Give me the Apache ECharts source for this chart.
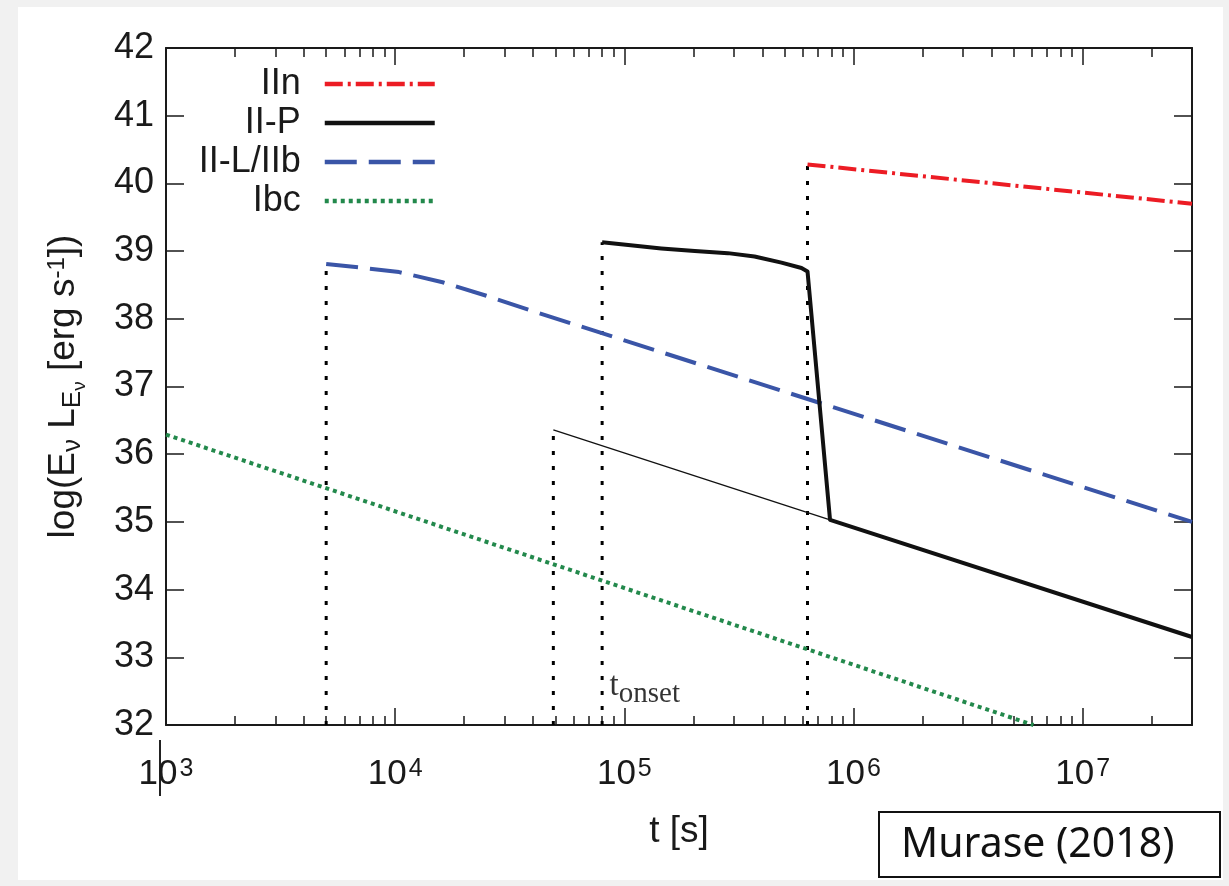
<!DOCTYPE html>
<html>
<head>
<meta charset="utf-8">
<title>Murase (2018)</title>
<script src="https://cdn.jsdelivr.net/npm/echarts@6.0.0/dist/echarts.min.js"></script>
<style>
  html, body { margin: 0; padding: 0; background: #f1f1f1; }
  #panel { position: absolute; left: 18px; top: 7px; width: 1205px; height: 873px; background: #fff; }
  #chart { position: absolute; left: 0; top: 0; width: 1229px; height: 886px; }
</style>
</head>
<body>
<div id="panel"></div>
<div id="chart"></div>
<script>
// t in seconds, values are log10(E L_E) in erg/s
const tMin = 1e3;
const tMax = 3e7;
const majorTicks = [1e3, 1e4, 1e5, 1e6, 1e7];
const minorTicks = [
    2e3, 3e3, 4e3, 5e3, 6e3, 7e3, 8e3, 9e3,
    2e4, 3e4, 4e4, 5e4, 6e4, 7e4, 8e4, 9e4,
    2e5, 3e5, 4e5, 5e5, 6e5, 7e5, 8e5, 9e5,
    2e6, 3e6, 4e6, 5e6, 6e6, 7e6, 8e6, 9e6,
    2e7, 3e7
];
const yMin = 32;
const yMax = 42;

const legendNames = ['IIn', 'II-P', 'II-L/IIb', 'Ibc'];
const dataIIn = [[6.3e5, 40.28], [3e7, 39.70]];
const dataIIP = [[8e4, 39.13], [1.04e5, 39.09], [1.45e5, 39.04], [2.03e5, 39.00], [2.83e5, 38.97], [3.7e5, 38.92], [4.85e5, 38.83], [5.93e5, 38.75], [6.3e5, 38.70], [7.9e5, 35.03], [3e7, 33.30]];
const dataIIPThin = [[4.9e4, 36.36], [7.9e5, 35.03]];
const dataIIL = [[5e3, 38.81], [6.9e3, 38.76], [1.04e4, 38.69], [1.61e4, 38.54], [2.5e4, 38.34], [3.85e4, 38.13], [3e7, 35.00]];
const dataIbc = [[1e3, 36.29], [6.1e6, 32.0]];
const onsetTimes = [5e3, 4.9e4, 8e4, 6.3e5];
const onsetTops = [38.81, 36.36, 39.13, 40.28];
const onsetLabelTime = 8e4;

const lg = t => Math.log10(t);
const toXY = pts => pts.map(p => [lg(p[0]), p[1]]);

const font = 'Liberation Sans, Arial, Helvetica, sans-serif';
const serif = 'Liberation Serif, Times New Roman, serif';
const ink = '#1a1a1a';

var myChart = echarts.init(document.getElementById('chart'), null, { renderer: 'canvas' });

function xAxis(position, ticks, len, main) {
    return {
        type: 'value',
        position: position,
        min: lg(tMin),
        max: lg(tMax),
        axisLine: { show: main, onZero: false, lineStyle: { color: ink, width: 2 } },
        axisTick: { show: true, inside: true, length: len, customValues: ticks.map(lg), lineStyle: { color: ink, width: 1.5 } },
        axisLabel: { show: false },
        splitLine: { show: false }
    };
}

const bottomMajor = xAxis('bottom', majorTicks, 17, true);
bottomMajor.axisLabel = {
    show: true,
    customValues: majorTicks.map(lg),
    margin: 32,
    formatter: v => '{b|10}{s|' + Math.round(v) + '}',
    rich: {
        b: { fontFamily: font, fontSize: 35, lineHeight: 35, color: ink, verticalAlign: 'bottom' },
        s: { fontFamily: font, fontSize: 25, lineHeight: 25, color: ink, verticalAlign: 'top', padding: [0, 0, 26, 2] }
    }
};
bottomMajor.name = 't [s]';
bottomMajor.nameLocation = 'middle';
bottomMajor.nameGap = 82;
bottomMajor.nameTextStyle = { fontFamily: font, fontSize: 37, color: ink };

function yAxis(position, main) {
    return {
        type: 'value',
        position: position,
        min: yMin,
        max: yMax,
        interval: 1,
        axisLine: { show: true, lineStyle: { color: ink, width: 2 } },
        axisTick: { show: true, inside: true, length: 18, lineStyle: { color: ink, width: 1.5 } },
        axisLabel: { show: main, margin: 12, fontFamily: font, fontSize: 36, color: ink },
        splitLine: { show: false }
    };
}

const leftAxis = yAxis('left', true);
leftAxis.name = '{b|log(E}{s1|ν}{b| L}{s1|E}{s2|ν}{b| [erg s}{p|-1}{b|])}';
leftAxis.nameLocation = 'middle';
leftAxis.nameGap = 84;
leftAxis.nameTextStyle = {
    rich: {
        b: { fontFamily: font, fontSize: 37, lineHeight: 37, color: ink, verticalAlign: 'top' },
        s1: { fontFamily: font, fontSize: 26, lineHeight: 26, color: ink, verticalAlign: 'top', padding: [15, 0, 0, 0] },
        s2: { fontFamily: font, fontSize: 19, lineHeight: 19, color: ink, verticalAlign: 'top', padding: [25, 0, 0, 0] },
        p: { fontFamily: font, fontSize: 24, lineHeight: 24, color: ink, verticalAlign: 'top' }
    }
};

function curve(name, data, color, width, type) {
    return {
        name: name,
        type: 'line',
        data: toXY(data),
        symbol: 'none',
        silent: true,
        lineStyle: { color: color, width: width, type: type, cap: 'butt', join: 'round' },
        itemStyle: { color: color },
        z: 3
    };
}

const series = [];
onsetTimes.forEach((t, i) => {
    series.push(curve('onset ' + i, [[t, yMin], [t, onsetTops[i]]], '#000', 3, [4, 11]));
});
series.push(curve('II-P tail', dataIIPThin, '#111', 1.3, 'solid'));
series.push(curve('Ibc', dataIbc, '#23894c', 4, [4, 4]));
series.push(curve('II-L/IIb', dataIIL, '#3a55a7', 4, [32, 12]));
series.push(curve('IIn', dataIIn, '#ec1c24', 4, [18, 5, 3, 5]));
series.push(curve('II-P', dataIIP, '#111', 4, 'solid'));
series.push({
    name: 'onset label',
    type: 'scatter',
    data: [[lg(onsetLabelTime), yMin]],
    symbolSize: 1,
    itemStyle: { color: 'rgba(0,0,0,0)' },
    clip: false,
    silent: true,
    z: 5,
    label: {
        show: true,
        position: 'right',
        distance: 7,
        offset: [0, -39],
        formatter: '{t|t}{o|onset}',
        rich: {
            t: { fontFamily: serif, fontSize: 33, lineHeight: 33, color: '#000', verticalAlign: 'top' },
            o: { fontFamily: serif, fontSize: 29, lineHeight: 29, color: '#000', verticalAlign: 'top', padding: [10, 0, 0, 0] }
        }
    }
});

var option = {
    animation: false,
    grid: { left: 166, top: 48, right: 37, bottom: 161, containLabel: false },
    xAxis: [
        bottomMajor,
        xAxis('bottom', minorTicks, 9, false),
        xAxis('top', majorTicks, 17, true),
        xAxis('top', minorTicks, 9, false)
    ],
    yAxis: [leftAxis, yAxis('right', false)],
    legend: {
        orient: 'vertical',
        align: 'right',
        right: 792,
        top: 66,
        padding: 0,
        itemGap: 3,
        itemWidth: 110,
        itemHeight: 14,
        selectedMode: false,
        data: legendNames,
        itemStyle: { color: 'rgba(0,0,0,0)', borderWidth: 0, opacity: 0 },
        lineStyle: { width: 4.5 },
        textStyle: { fontFamily: font, fontSize: 36, lineHeight: 36, color: ink, padding: [0, 19, 0, 0] }
    },
    graphic: [
        {
            type: 'rect',
            shape: { x: 879, y: 812, width: 341, height: 65 },
            style: { fill: '#fff', stroke: '#111', lineWidth: 2 }
        },
        {
            type: 'text',
            x: 901,
            y: 845,
            style: { text: 'Murase (2018)', fontFamily: 'Noto Sans, Lato, sans-serif', fontSize: 41, fill: '#111', verticalAlign: 'middle' }
        },
        {
            type: 'line',
            shape: { x1: 160, y1: 740, x2: 160, y2: 796 },
            style: { stroke: '#222', lineWidth: 2 }
        }
    ],
    series: series
};

myChart.setOption(option);

window.addEventListener('resize', () => {
    myChart.resize();
});
</script>
</body>
</html>
